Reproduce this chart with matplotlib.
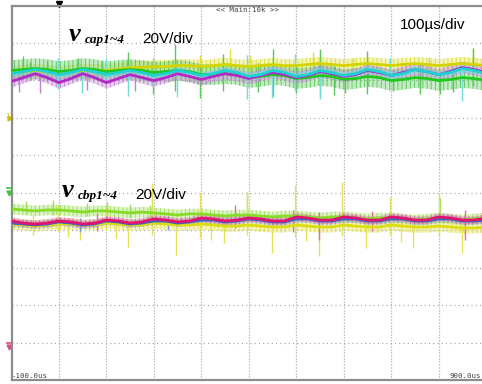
#!/usr/bin/env python3
"""
Scope capture: DC-link capacitor voltages v_cap1~4 and v_cbp1~4.

Each channel is stored in volts relative to its own ground marker and is
placed on the 10 x 10 division screen with 20 V/div and 100 us/div.
"""

import matplotlib
matplotlib.use('Agg')
import matplotlib.pyplot as plt
import matplotlib.transforms as mtransforms
import numpy as np

VOLTS_PER_DIV = 20.0

# Sample instants (us), one every quarter division
time_us = np.arange(-100, 901, 25)

# Upper group, ground marker at +2 div
cap_offset_div = 2.0
cap_yellow = [24.2, 24.7, 25.3, 24.7, 24.2, 24.7, 25.3, 25.3, 25.3, 25.8, 26.9,
              26.9, 27.4, 27.4, 27.9, 27.9, 27.4, 27.9, 28.5, 27.9, 27.4, 27.9,
              28.5, 27.9, 27.9, 28.5, 29.0, 28.5, 27.9, 28.5, 29.0, 28.5, 27.9,
              28.5, 29.0, 28.5, 27.9, 28.5, 29.0, 28.5, 27.9]
cap_green = [25.3, 25.8, 26.3, 25.8, 24.7, 25.3, 26.3, 25.8, 24.7, 25.3, 25.8,
             25.3, 24.2, 24.7, 25.3, 24.7, 23.1, 23.1, 23.6, 23.1, 21.5, 22.1,
             23.1, 22.6, 21.0, 21.5, 22.6, 22.1, 20.5, 21.0, 22.1, 21.5, 19.9,
             20.5, 21.5, 21.0, 19.9, 20.5, 21.5, 21.0, 19.9]
cap_magenta = [19.4, 21.5, 23.6, 21.5, 18.8, 21.0, 23.6, 21.5, 18.8, 21.0, 23.1,
               21.5, 19.9, 21.5, 23.6, 22.1, 20.5, 22.1, 23.6, 22.6, 21.0, 22.6,
               24.2, 23.1, 21.5, 22.6, 24.7, 23.6, 22.1, 23.1, 25.3, 24.2, 22.6,
               24.2, 25.8, 24.7, 23.1, 24.7, 26.9, 25.8, 24.2]
cap_cyan = [23.6, 24.7, 25.8, 24.7, 23.1, 24.2, 25.8, 24.7, 23.1, 24.2, 25.3,
            24.2, 22.6, 23.6, 25.3, 24.2, 22.6, 23.6, 25.3, 24.2, 22.1, 23.1,
            25.3, 24.2, 22.1, 23.1, 25.3, 24.2, 22.6, 23.6, 25.8, 24.7, 22.6,
            23.6, 25.8, 24.7, 23.1, 24.2, 26.3, 25.3, 23.6]

# Lower group, ground marker at the screen centre
cbp_offset_div = 0.0
cbp_green = [-8.7, -9.2, -9.7, -9.2, -9.2, -9.7, -10.3, -9.7, -9.7, -10.3, -10.8,
             -10.3, -10.8, -11.3, -11.9, -11.3, -11.3, -11.9, -12.4, -11.9, -11.9,
             -12.4, -12.9, -12.4, -12.4, -12.9, -13.5, -12.9, -12.9, -13.5, -14.0,
             -13.5, -13.5, -14.0, -14.6, -14.0, -13.5, -14.0, -14.6, -14.0, -13.5]
cbp_yellow = [-16.7, -17.2, -17.8, -17.2, -16.7, -16.7, -17.2, -17.2, -16.2, -16.7,
              -17.2, -17.2, -16.2, -16.7, -17.2, -17.2, -16.7, -17.2, -17.8, -17.8,
              -17.2, -17.8, -18.3, -18.3, -17.2, -17.8, -18.3, -18.3, -17.2, -17.8,
              -18.3, -18.3, -17.2, -17.8, -18.3, -18.3, -17.8, -18.3, -18.8, -18.8,
              -18.3]
cbp_blue = [-16.2, -16.7, -17.2, -16.7, -15.6, -16.2, -17.2, -16.7, -15.1, -15.6,
            -16.7, -16.2, -15.1, -15.1, -16.2, -15.6, -14.6, -14.6, -15.6, -15.1,
            -14.0, -14.6, -15.6, -15.6, -14.0, -14.0, -15.1, -15.1, -14.0, -14.0,
            -15.1, -15.1, -14.0, -14.0, -15.1, -15.1, -14.0, -14.0, -15.1, -15.1,
            -14.6]
cbp_magenta = [-15.1, -16.2, -16.7, -16.2, -15.1, -15.6, -16.7, -16.2, -14.6, -15.1,
               -16.2, -15.6, -14.0, -14.6, -15.6, -15.1, -13.5, -14.0, -15.1, -14.6,
               -13.5, -14.0, -15.1, -15.1, -12.9, -13.5, -14.6, -14.6, -12.9, -13.5,
               -14.6, -14.6, -12.9, -13.5, -14.6, -14.6, -12.9, -13.5, -14.6, -14.6,
               -13.5]

# Switching spikes: (time us, peak V, dip V)
cap_cyan_spikes = [(-2, 31.7, 15.6), (49, 24.2, 13.5), (99, 32.2, 21.0),
                   (146, 25.3, 11.9), (198, 31.7, 17.2), (249, 25.3, 11.4),
                   (396, 33.3, 10.3), (449, 25.3, 10.8), (497, 34.3, 14.6),
                   (550, 25.3, 10.3), (697, 32.2, 19.9), (849, 25.3, 9.2)]
cap_green_spikes = [(-75, 33.2, 21.0), (-25, 30.6, 19.9), (40, 31.7, 22.1),
                    (146, 34.9, 21.0), (198, 26.3, 13.0), (245, 39.7, 14.6),
                    (297, 27.4, 10.8), (346, 34.3, 14.6), (451, 37.0, 11.9),
                    (550, 37.0, 11.9), (603, 24.2, 13.5), (649, 35.9, 13.0),
                    (704, 25.3, 14.6), (803, 24.2, 13.0), (873, 37.5, 17.2),
                    (-60, 30.0, 21.0), (90, 30.6, 20.5), (420, 29.5, 14.0),
                    (500, 29.0, 13.5), (580, 27.9, 12.4), (760, 28.5, 13.0),
                    (830, 27.4, 14.0)]
cap_yellow_spikes = [(297, 33.3, 22.6), (360, 37.0, 22.6), (403, 33.3, 24.2),
                     (535, 34.9, 24.2), (872, 37.5, 24.2), (620, 32.2, 24.7),
                     (780, 32.7, 24.7)]
cap_magenta_spikes = [(-40, 25.3, 13.5), (160, 24.2, 14.6), (-85, 24.7, 14.0),
                      (60, 25.8, 15.1)]

cbp_yellow_spikes = [(-55, -11.9, -22.6), (-2, -6.5, -21.0), (44, -14.6, -25.2),
                     (99, -8.1, -19.9), (146, -14.6, -29.0), (196, 5.2, -22.6),
                     (247, -14.6, -33.2), (297, -0.1, -24.2), (348, -14.6, -26.8),
                     (396, 0.4, -22.6), (449, -14.6, -32.2), (497, 4.1, -23.6),
                     (548, -14.6, -33.8), (597, 5.7, -23.1), (647, -14.6, -29.5),
                     (697, -2.3, -22.6), (746, -14.6, -29.5), (801, -0.1, -23.1),
                     (849, -14.6, -32.2), (20, -15.1, -23.6), (120, -15.1, -24.2),
                     (320, -15.6, -25.2), (520, -15.6, -25.8), (720, -16.2, -26.3)]
cbp_green_spikes = [(-12, -3.9, -11.9), (101, -4.9, -13.5), (192, -6.5, -14.6),
                    (396, 0.4, -14.6), (803, -2.8, -15.6), (-70, -4.4, -11.3),
                    (60, -5.5, -12.4), (150, -6.0, -13.5)]
cbp_magenta_spikes = [(371, -6.5, -18.8), (493, -9.2, -21.0), (548, -10.3, -25.2),
                      (855, -9.2, -25.2), (80, -10.8, -20.5), (660, -9.7, -20.5)]
cbp_blue_spikes = [(44, -13.5, -21.0), (230, -12.4, -20.0)]


def to_div(volts, offset):
    """Convert channel volts to screen divisions."""
    return offset + np.asarray(volts) / VOLTS_PER_DIV


def draw_trace(ax, values, offset, color, haze, half_band, spikes):
    """Draw one noisy channel: noise band, spikes and the mean trace."""
    y = to_div(values, offset)
    band = half_band / VOLTS_PER_DIV
    ax.fill_between(time_us, y - band, y + band, facecolor=haze, alpha=0.35,
                    edgecolor='none', lw=0, zorder=2)
    ax.fill_between(time_us, y - band, y + band, facecolor='none',
                    edgecolor=haze, hatch='||||', lw=0, alpha=0.9, zorder=2)
    for t, hi, lo in spikes:
        ax.vlines(t, to_div(lo, offset), to_div(hi, offset),
                  color=haze, lw=1.0, zorder=2)
    ax.plot(time_us, y, color=color, lw=2.0, zorder=3)


plt.rcParams['hatch.linewidth'] = 0.7

fig = plt.figure(figsize=(4.82, 3.84), dpi=100)
# screen spans 10 divisions; the right edge runs past the capture
ax = fig.add_axes([11.5 / 482, 4.0 / 384, 474.5 / 482, 374.5 / 384])
ax.set_xlim(-100, 900)
ax.set_ylim(-5, 5)
ax.set_xticks([])
ax.set_yticks([])
for side in ('left', 'top', 'bottom', 'right'):
    ax.spines[side].set_color('#8c8c8c')
    ax.spines[side].set_linewidth(1.6)

# dotted graticule
for gx in range(0, 900, 100):
    ax.axvline(gx, color='#9a9a9a', lw=0.9, dashes=(0.8, 1.6), zorder=1)
for gy in range(-4, 5):
    ax.axhline(gy, color='#9a9a9a', lw=0.9, dashes=(0.8, 2.6), zorder=1)

# v_cap1~4 group
draw_trace(ax, cap_yellow, cap_offset_div, '#d4d400', '#dede40', 3.5, cap_yellow_spikes)
draw_trace(ax, cap_green, cap_offset_div, '#1ec81e', '#5cc85c', 5.5, cap_green_spikes)
draw_trace(ax, cap_magenta, cap_offset_div, '#b428c8', '#c080d4', 3.2, cap_magenta_spikes)
draw_trace(ax, cap_cyan, cap_offset_div, '#1ed2d2', '#70dcdc', 1.8, cap_cyan_spikes)

# v_cbp1~4 group
draw_trace(ax, cbp_green, cbp_offset_div, '#86dc28', '#a0e060', 2.8, cbp_green_spikes)
draw_trace(ax, cbp_yellow, cbp_offset_div, '#dcdc10', '#e2e258', 3.0, cbp_yellow_spikes)
draw_trace(ax, cbp_blue, cbp_offset_div, '#3c64c8', '#8098d8', 2.0, cbp_blue_spikes)
draw_trace(ax, cbp_magenta, cbp_offset_div, '#e0146e', '#e070a0', 2.0, cbp_magenta_spikes)

# ground markers on the left edge and trigger arrow on top
ax.plot([-103], [cap_offset_div], marker='>', ms=3.5, color='#d0c000', clip_on=False)
ax.text(-108, cap_offset_div + 0.05, '1', fontsize=5, color='#d0c000',
        ha='center', va='center', clip_on=False)
ax.plot([-106], [0.12], marker='_', ms=5, mew=1.2, color='#3cc83c', clip_on=False)
ax.plot([-106], [0.0], marker='v', ms=3.5, color='#3cc83c', clip_on=False)
ax.plot([-106], [-4.0], marker='_', ms=5, mew=1.2, color='#d0508c', clip_on=False)
ax.plot([-106], [-4.12], marker='v', ms=3.5, color='#d0508c', clip_on=False)
trans = mtransforms.blended_transform_factory(ax.transData, ax.transAxes)
ax.plot([0], [1.004], marker='v', ms=4, color='black', transform=trans, clip_on=False)

# channel labels
serif = dict(family='Liberation Serif', weight='bold', style='italic', color='black')
sans = dict(family='Liberation Sans', color='black')
fig.text(69 / 482, 1 - 41 / 384, 'v', fontsize=19, **serif)
fig.text(85 / 482, 1 - 43 / 384, 'cap1~4', fontsize=9.5, **serif)
fig.text(142 / 482, 1 - 43 / 384, '20V/div', fontsize=11, **sans)
fig.text(62 / 482, 1 - 197 / 384, 'v', fontsize=19, **serif)
fig.text(78 / 482, 1 - 199 / 384, 'cbp1~4', fontsize=9.5, **serif)
fig.text(135 / 482, 1 - 199 / 384, '20V/div', fontsize=11, **sans)
fig.text(400 / 482, 1 - 29 / 384, '100µs/div', fontsize=11, **sans)

# scope status text
mono = dict(family='DejaVu Sans Mono', fontsize=5.3, color='#404040')
fig.text(248 / 482, 1 - 10 / 384, '<< Main:10k >>', ha='center', va='center', **mono)
fig.text(12 / 482, 1 - 376 / 384, '-100.0us', ha='left', va='center', **mono)
fig.text(481 / 482, 1 - 376 / 384, '900.0us', ha='right', va='center', **mono)

fig.savefig('out.png', dpi=100)
